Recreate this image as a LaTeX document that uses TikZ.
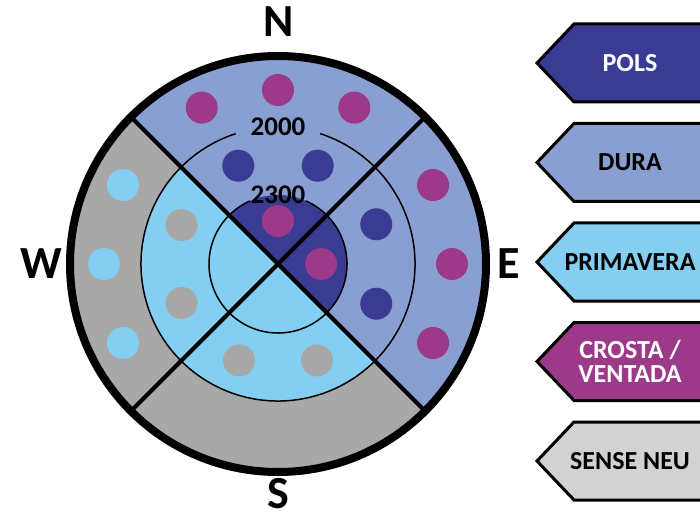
\documentclass[tikz,border=0pt]{standalone}
\usepackage{fontspec}
\setmainfont{Carlito}
\usetikzlibrary{calc}
\definecolor{pols}{HTML}{393C92}
\definecolor{dura}{HTML}{8A9FD1}
\definecolor{primavera}{HTML}{84CEF1}
\definecolor{crosta}{HTML}{9C3A89}
\definecolor{senseneu}{HTML}{A8A8A8}
\definecolor{senseneulight}{HTML}{D2D2D2}
\tikzset{
  compass/.style = {font=\fontsize{46}{46}\selectfont\bfseries, inner sep=0pt},
  altlabel/.style = {font=\fontsize{27}{27}\selectfont\bfseries, inner sep=0pt},
  legtext/.style = {font=\fontsize{26}{24}\selectfont\bfseries, align=center, inner sep=0pt},
  legbox/.style = {draw=black, line width=3pt, line join=miter},
  ring/.style = {draw=black, line width=1.5pt},
  cross/.style = {draw=black, line width=4pt},
}

\begin{document}
\begin{tikzpicture}[x=1pt,y=1pt]
\clip (0,0) rectangle (700,517);
\coordinate (C) at (278,253);
% sectors
\fill[senseneu] (C) circle (208);
\fill[dura] (C) -- ++(-45:208) arc (-45:135:208) -- cycle;
\fill[primavera] (C) -- ++(135:137) arc (135:315:137) -- cycle;
\fill[pols] (C) -- ++(-45:69) arc (-45:135:69) -- cycle;
% dots
\foreach \a in {64,90,116,-27,0,27}
  \fill[crosta] ($(C)+(\a:174)$) circle (16);
\foreach \a in {153,180,207}
  \fill[primavera] ($(C)+(\a:174)$) circle (16);
\foreach \a in {68,112,-22,22}
  \fill[pols] ($(C)+(\a:106)$) circle (16);
\foreach \a in {158,202,248,292}
  \fill[senseneu] ($(C)+(\a:104)$) circle (16);
\foreach \a in {0,90}
  \fill[crosta] ($(C)+(\a:43)$) circle (16);
% lines
\draw[ring] ($(C)+(108:137)$) arc (108:432:137);
\draw[ring] ($(C)+(114:69)$) arc (114:426:69);
\draw[cross] ($(C)+(135:208)$) -- ($(C)+(-45:208)$);
\draw[cross] ($(C)+(45:208)$) -- ($(C)+(225:208)$);
\draw[line width=8pt] (C) circle (208);
\node[altlabel] (a2000) at ($(C)+(0,137)$) {2000};
\node[altlabel] (a2300) at ($(C)+(0,69)$) {2300};
% compass
\node[compass, anchor=south] (north) at ($(C)+(1,227)$) {N};
\node[compass, anchor=north] (south) at ($(C)+(0,-214)$) {S};
\node[compass, anchor=east] (west) at ($(C)+(-216,0)$) {W};
\node[compass, anchor=west] (east) at ($(C)+(219,0)$) {E};
% legend
\foreach \n/\c/\t/\txt [count=\i from 0] in {
    pols/pols/white/POLS,
    dura/dura/black/DURA,
    primavera/primavera/black/PRIMAVERA,
    crosta/crosta/white/{CROSTA /\\VENTADA},
    senseneu/senseneulight/black/SENSE NEU}
{
  \pgfmathsetmacro\y{454-99.5*\i}
  \draw[legbox, fill=\c] (537,\y) -- (574,\y+39) -- (710,\y+39) -- (710,\y-39) -- (574,\y-39) -- cycle;
  \node[legtext, text=\t] (\n) at (630,\y) {\txt};
}
\end{tikzpicture}
\end{document}
